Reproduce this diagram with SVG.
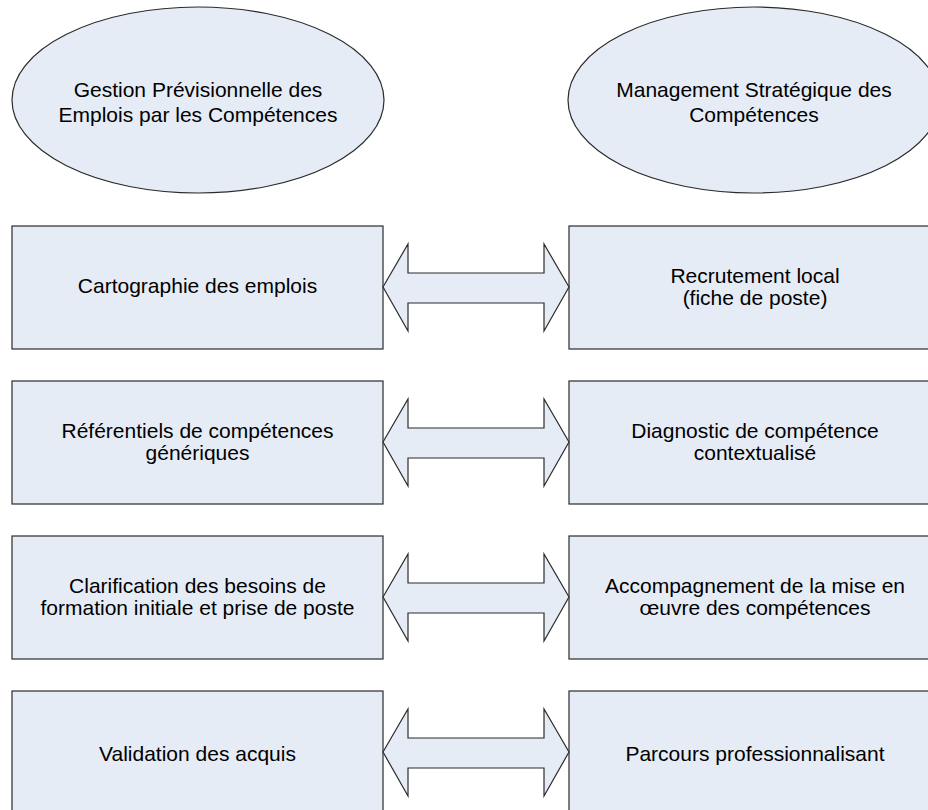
<svg xmlns="http://www.w3.org/2000/svg" width="928" height="810" viewBox="0 0 928 810">
<style>
.shape{fill:#E6ECF6;stroke:#2b2b2b;stroke-width:1.2}
.arrow{fill:#E6ECF6;stroke:#2b2b2b;stroke-width:1.2;stroke-linejoin:miter}
text{font-family:"Liberation Sans",Arial,sans-serif;font-size:21px;fill:#000;text-anchor:middle}
</style>
<rect width="928" height="810" fill="#fff"/>
<g id="ellipse-gpec">
<ellipse class="shape" cx="198" cy="100" rx="186" ry="93"/>
<text x="198" y="97">Gestion Prévisionnelle des</text>
<text x="198" y="122">Emplois par les Compétences</text>
</g>
<g id="ellipse-msc">
<ellipse class="shape" cx="754" cy="100" rx="186" ry="93"/>
<text x="754" y="97">Management Stratégique des</text>
<text x="754" y="122">Compétences</text>
</g>
<g id="box-l1">
<rect class="shape" x="12" y="226" width="371" height="123"/>
<text x="197.5" y="293">Cartographie des emplois</text>
</g>
<g id="box-r1">
<rect class="shape" x="569" y="226" width="372" height="123"/>
<text x="755" y="282.5">Recrutement local</text>
<text x="755" y="304.5">(fiche de poste)</text>
</g>
<g id="box-l2">
<rect class="shape" x="12" y="381" width="371" height="123"/>
<text x="197.5" y="437.5">Référentiels de compétences</text>
<text x="197.5" y="459.5">génériques</text>
</g>
<g id="box-r2">
<rect class="shape" x="569" y="381" width="372" height="123"/>
<text x="755" y="437.5">Diagnostic de compétence</text>
<text x="755" y="459.5">contextualisé</text>
</g>
<g id="box-l3">
<rect class="shape" x="12" y="536" width="371" height="123"/>
<text x="197.5" y="592.5">Clarification des besoins de</text>
<text x="197.5" y="614.5">formation initiale et prise de poste</text>
</g>
<g id="box-r3">
<rect class="shape" x="569" y="536" width="372" height="123"/>
<text x="755" y="592.5">Accompagnement de la mise en</text>
<text x="755" y="614.5">œuvre des compétences</text>
</g>
<g id="box-l4">
<rect class="shape" x="12" y="691" width="371" height="123"/>
<text x="197.5" y="761">Validation des acquis</text>
</g>
<g id="box-r4">
<rect class="shape" x="569" y="691" width="372" height="123"/>
<text x="755" y="761">Parcours professionnalisant</text>
</g>
<g id="connectors">
<polygon class="arrow" points="383,287 408,244 408,273 544,273 544,244 569,287 544,331 544,303 408,303 408,331"/>
<polygon class="arrow" points="383,442 408,399 408,428 544,428 544,399 569,442 544,486 544,458 408,458 408,486"/>
<polygon class="arrow" points="383,597 408,554 408,583 544,583 544,554 569,597 544,641 544,613 408,613 408,641"/>
<polygon class="arrow" points="383,752 408,709 408,738 544,738 544,709 569,752 544,796 544,768 408,768 408,796"/>
</g>
</svg>
